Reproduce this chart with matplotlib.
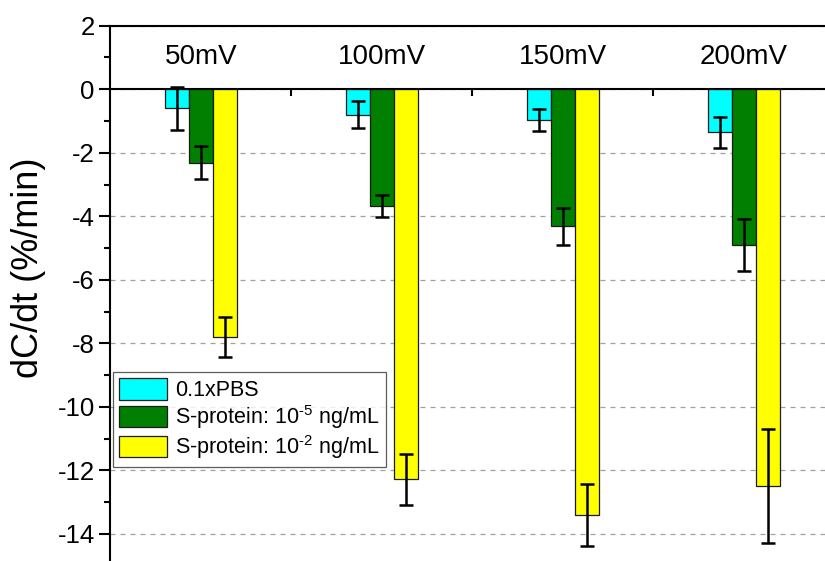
import matplotlib
matplotlib.use("Agg")
import matplotlib.pyplot as plt
import numpy as np
from matplotlib.ticker import FixedLocator, NullFormatter

plt.rcParams['font.family'] = ['Liberation Sans', 'DejaVu Sans']
plt.rcParams['axes.unicode_minus'] = False
plt.rcParams['mathtext.fontset'] = 'custom'
plt.rcParams['mathtext.rm'] = 'Liberation Sans'

groups = ["50mV", "100mV", "150mV", "200mV"]
series_labels = ["0.1xPBS",
                 "S-protein: 10$^{\u2010\\mathrm{5}}$ ng/mL",
                 "S-protein: 10$^{\u2010\\mathrm{2}}$ ng/mL"]
pbs = [-0.60, -0.80, -0.96, -1.36]
pbs_err = [0.68, 0.42, 0.34, 0.48]
sp5 = [-2.32, -3.67, -4.31, -4.89]
sp5_err = [0.52, 0.34, 0.58, 0.82]
sp2 = [-7.80, -12.28, -13.40, -12.49]
sp2_err = [0.62, 0.80, 0.97, 1.78]
colors = ["#00FFFF", "#007F00", "#FFFF00"]

yticks = list(range(-14, 3, 2))
ytick_labels = [str(t) for t in yticks]

fig = plt.figure(figsize=(8.25, 5.61), dpi=100)
ax = fig.add_axes([110/825, 0, 715/825, (561-25.7)/561])

x = np.arange(len(groups))
w = 0.133
vals = [pbs, sp5, sp2]
errs = [pbs_err, sp5_err, sp2_err]
handles = []
for i, (v, e, c, lab) in enumerate(zip(vals, errs, colors, series_labels)):
    b = ax.bar(x + (i - 1) * w, v, width=w, color=c, edgecolor="#1a1a1a",
               linewidth=0.9, label=lab, zorder=2)
    handles.append(b)
    ax.errorbar(x + (i - 1) * w, v, yerr=e, fmt="none", ecolor="black",
                elinewidth=1.8, capsize=4.7, capthick=1.8, zorder=3)

ax.set_xlim(-0.503, 3.45)
ax.set_ylim(-14.85, 2)

ax.spines['right'].set_visible(False)
ax.spines['bottom'].set_position(('data', 0))
for s in ['left', 'top', 'bottom']:
    ax.spines[s].set_linewidth(1.5)
    ax.spines[s].set_color('black')

ax.set_yticks(yticks)
ax.set_yticklabels(ytick_labels, fontsize=18.5)
ax.yaxis.set_minor_locator(FixedLocator(np.arange(-15, 2, 2)))
ax.tick_params(axis='y', which='major', direction='out', length=8, width=1.5, pad=3)
ax.tick_params(axis='y', which='minor', direction='out', length=4, width=1.5)

ax.set_xticks(x)
ax.set_xticklabels([])
ax.xaxis.set_minor_locator(FixedLocator([0.5, 1.5, 2.5]))
ax.xaxis.set_minor_formatter(NullFormatter())
ax.tick_params(axis='x', which='major', direction='out', length=7, width=1.5)
ax.tick_params(axis='x', which='minor', direction='out', length=5, width=1.5)

ax.yaxis.grid(True, which='major', linestyle=(0, (4, 4)), color='#a0a0a0', linewidth=0.9, zorder=0)
ax.set_axisbelow(True)

for xi, g in zip(x, groups):
    ax.text(xi, 1.0, g, ha='center', va='center', fontsize=20)

fig.text(29/825, 1 - 268/561, "dC/dt (%/min)", rotation=90, ha='center', va='center', fontsize=26)

leg = ax.legend(handles=handles, loc='upper left',
                bbox_to_anchor=(113/825, 1 - 372/561), bbox_transform=fig.transFigure,
                borderaxespad=0, fontsize=15.5, frameon=True, fancybox=False,
                handlelength=2.2, handleheight=1.15, labelspacing=0.08,
                handletextpad=0.4, borderpad=0.3)
leg.get_frame().set_edgecolor('#333333')
leg.get_frame().set_linewidth(0.9)
leg.set_zorder(5)

fig.savefig("out.png", dpi=100)
